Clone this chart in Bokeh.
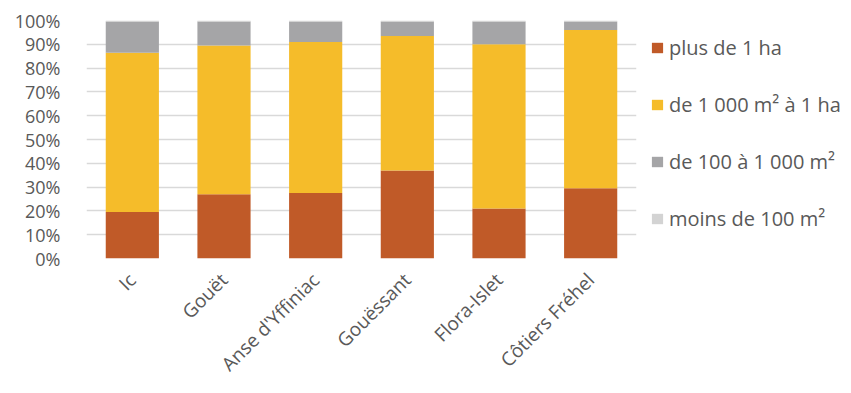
from math import pi
from bokeh.plotting import figure
from bokeh.models import Range1d, FactorRange, PrintfTickFormatter, Legend, FixedTicker
from bokeh.embed import file_html
from bokeh.resources import INLINE

categories = ["Ic", "Gouët", "Anse d'Yffiniac", "Gouëssant", "Flora-Islet", "Côtiers Fréhel"]
plus_1ha = [19.5, 27.0, 27.5, 37.0, 21.0, 29.5]
de_1000_a_1ha = [67.0, 62.5, 63.5, 56.5, 69.0, 66.5]
de_100_a_1000 = [13.1, 10.1, 8.6, 6.1, 9.6, 3.6]
moins_100 = [0.4, 0.4, 0.4, 0.4, 0.4, 0.4]
series_labels = ["plus de 1 ha", "de 1 000 m² à 1 ha", "de 100 à 1 000 m²", "moins de 100 m²"]
y_ticks = [0, 10, 20, 30, 40, 50, 60, 70, 80, 90, 100]

colors = ["#C05A28", "#F5BC2A", "#A5A5A7", "#D3D3D3"]
keys = ["plus", "k1000", "k100", "moins"]
data = dict(cat=categories, plus=plus_1ha, k1000=de_1000_a_1ha, k100=de_100_a_1000, moins=moins_100)

FONT = "Open Sans"
TXT = "#595959"

p = figure(frame_width=550, frame_height=238, x_range=FactorRange(*categories), y_range=Range1d(0, 100),
           output_backend="svg", toolbar_location=None,
           min_border_left=86, min_border_right=205, min_border_top=20, min_border_bottom=125)
p.x_range.range_padding = 0

rs = p.vbar_stack(keys, x="cat", width=0.58, color=colors, line_color=None, source=data)

legend = Legend(items=[(lab, [r]) for lab, r in zip(series_labels, rs)], location="top_left",
                orientation="vertical")
legend.border_line_color = None
legend.background_fill_alpha = 0
legend.label_text_font = FONT
legend.label_text_font_size = "20px"
legend.label_text_color = TXT
legend.glyph_width = 14
legend.glyph_height = 13
legend.label_height = 22
legend.spacing = 30
legend.padding = 0
legend.label_standoff = 5
legend.label_text_baseline = "middle"
legend.margin = 14
p.add_layout(legend, "right")

p.yaxis.ticker = FixedTicker(ticks=y_ticks)
p.yaxis.formatter = PrintfTickFormatter(format="%d%%")
for ax in (p.xaxis[0], p.yaxis[0]):
    ax.axis_line_color = None
    ax.major_tick_line_color = None
    ax.minor_tick_line_color = None
    ax.major_label_text_font = FONT
    ax.major_label_text_color = TXT
p.yaxis.major_label_text_font_size = "18px"
p.xaxis.major_label_text_font_size = "19px"
p.xaxis.major_label_orientation = pi / 4
p.xaxis.major_label_standoff = 12
p.yaxis.major_label_standoff = 20

p.xgrid.grid_line_color = None
p.ygrid.grid_line_color = "#D9D9D9"
p.ygrid.grid_line_width = 1.5
p.outline_line_color = None

open("out.html", "w").write(file_html(p, INLINE))
